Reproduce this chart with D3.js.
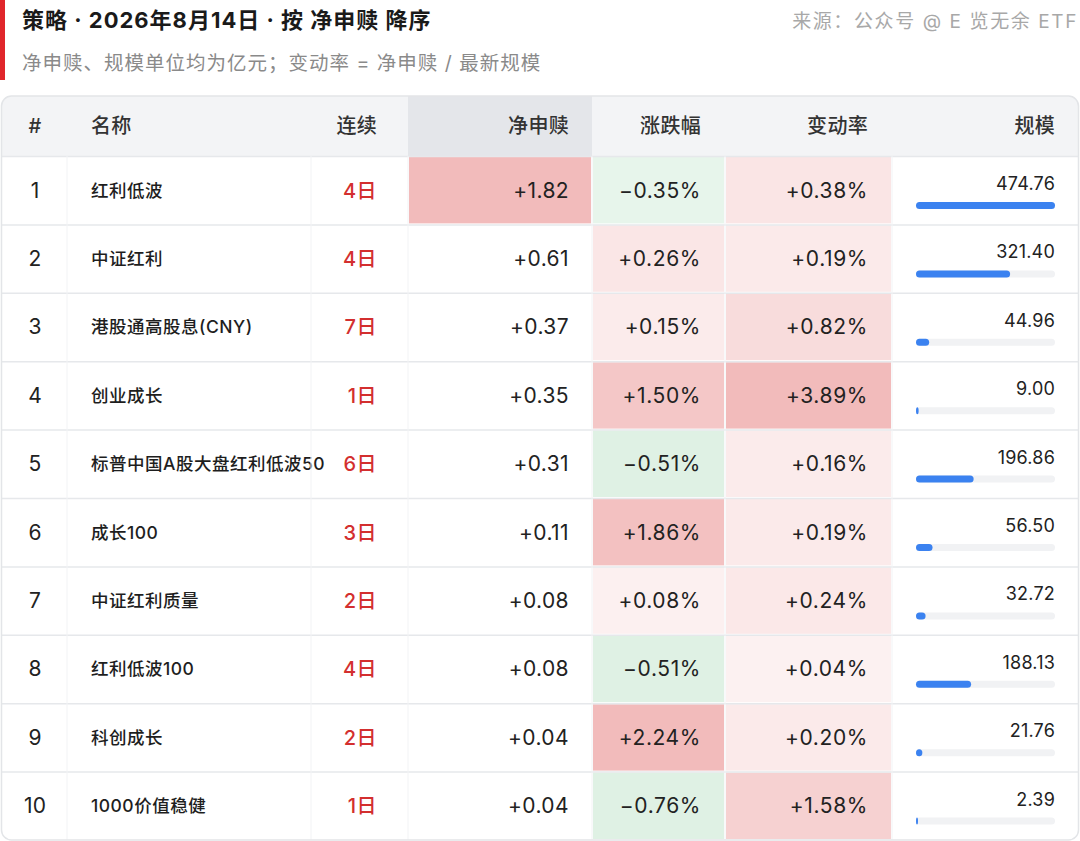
<!DOCTYPE html>
<html>
<head>
<meta charset="utf-8">
<script src="https://cdn.jsdelivr.net/npm/d3@7"></script>
<style>
  body { margin: 0; background: #fff; }
  svg { display: block; font-family: "Inter", "Noto Sans CJK SC", sans-serif; }
</style>
</head>
<body>
<div id="chart"></div>
<script>
// table data (净申赎 / 规模 in 亿元)
const ranks = [1, 2, 3, 4, 5, 6, 7, 8, 9, 10];
const names = ['红利低波', '中证红利', '港股通高股息(CNY)', '创业成长', '标普中国A股大盘红利低波50',
               '成长100', '中证红利质量', '红利低波100', '科创成长', '1000价值稳健'];
const streakDays = [4, 4, 7, 1, 6, 3, 2, 4, 2, 1];
const netFlow = [1.82, 0.61, 0.37, 0.35, 0.31, 0.11, 0.08, 0.08, 0.04, 0.04];
const pctChange = [-0.35, 0.26, 0.15, 1.50, -0.51, 1.86, 0.08, -0.51, 2.24, -0.76];
const changeRate = [0.38, 0.19, 0.82, 3.89, 0.16, 0.19, 0.24, 0.04, 0.20, 1.58];
const aum = [474.76, 321.40, 44.96, 9.00, 196.86, 56.50, 32.72, 188.13, 21.76, 2.39];
const headers = ['#', '名称', '连续', '净申赎', '涨跌幅', '变动率', '规模'];

const W = 1080, H = 841;
const svg = d3.select('#chart').append('svg')
    .attr('width', W)
    .attr('height', H);

// title block
svg.append('rect').attr('x', 0).attr('y', 0).attr('width', 5).attr('height', 80).attr('fill', '#e0262b');
svg.append('text').attr('x', 22).attr('y', 28)
    .attr('font-size', 22).attr('font-weight', 700).attr('fill', '#1a1a1a').attr('letter-spacing', 1)
    .text('策略 · 2026年8月14日 · 按 净申赎 降序');
svg.append('text').attr('x', 22).attr('y', 70)
    .attr('font-size', 19.5).attr('fill', '#8a8a8a').attr('letter-spacing', 1)
    .text('净申赎、规模单位均为亿元；变动率 = 净申赎 / 最新规模');
svg.append('text').attr('x', 1078).attr('y', 28).attr('text-anchor', 'end')
    .attr('font-size', 19).attr('fill', '#a8a8a8').attr('letter-spacing', 1.6)
    .text('来源：公众号 @ E 览无余 ETF');

// column edges
let cols = [
  {x0: 2, x1: 67, anchor: 'middle', tx: 35},
  {x0: 67, x1: 311, anchor: 'start', tx: 91},
  {x0: 311, x1: 408, anchor: 'end', tx: 377},
  {x0: 408, x1: 592, anchor: 'end', tx: 569},
  {x0: 592, x1: 725, anchor: 'end', tx: 701},
  {x0: 725, x1: 892, anchor: 'end', tx: 868},
  {x0: 892, x1: 1078, anchor: 'end', tx: 1055}
];

let tableTop = 96, headH = 60, tableBottom = 840;

let y = d3.scaleBand().domain(ranks).range([tableTop + headH, tableBottom]);
let barX = d3.scaleLinear().domain([0, d3.max(aum)]).range([0, 139]);

// cell shading
let red = d3.interpolateRgb('#ffffff', '#f2bbbb');
let green = d3.interpolateRgb('#ffffff', '#dff1e4');
let netColor = d3.scalePow().exponent(5).domain([0, d3.max(netFlow)]).range([0, 1]).clamp(true);
let pctColor = d3.scaleSqrt().domain([0, d3.max(pctChange)]).range([0.04, 1]).clamp(true);
let negColor = d3.scaleLinear().domain([0, 0.5]).range([0.15, 1]).clamp(true);
let rateColor = d3.scaleSqrt().domain([0, d3.max(changeRate)]).range([0.11, 1]).clamp(true);

let fmt = d3.format('+.2f');

// table frame
let clipId = 'tbl';
svg.append('clipPath').attr('id', clipId).append('rect')
    .attr('x', 1.5).attr('y', tableTop).attr('width', 1077).attr('height', tableBottom - tableTop)
    .attr('rx', 10);
let tbl = svg.append('g').attr('clip-path', 'url(#' + clipId + ')');

// header
tbl.append('rect').attr('x', 0).attr('y', tableTop).attr('width', W).attr('height', headH).attr('fill', '#f3f4f6');
tbl.append('rect').attr('x', cols[3].x0).attr('y', tableTop).attr('width', cols[3].x1 - cols[3].x0)
    .attr('height', headH).attr('fill', '#e4e6ea');
tbl.selectAll('.hd').data(headers).join('text')
    .attr('class', 'hd')
    .attr('x', (d, i) => cols[i].tx)
    .attr('y', tableTop + headH / 2 + 7)
    .attr('text-anchor', (d, i) => cols[i].anchor)
    .attr('font-size', 20).attr('font-weight', 500).attr('fill', '#333').attr('letter-spacing', 0.3)
    .text(d => d);

// rows
let rows = tbl.selectAll('.row').data(ranks).join('g')
    .attr('class', 'row')
    .attr('transform', d => 'translate(0,' + y(d) + ')');
let bh = y.bandwidth();

function cell(col, fill) {
  rows.append('rect')
      .attr('x', cols[col].x0 + 1).attr('y', 1)
      .attr('width', cols[col].x1 - cols[col].x0 - 2).attr('height', bh - 2)
      .attr('fill', fill);
}
cell(3, (d, i) => red(netColor(netFlow[i])));
cell(4, (d, i) => pctChange[i] >= 0 ? red(pctColor(pctChange[i])) : green(negColor(-pctChange[i])));
cell(5, (d, i) => red(rateColor(changeRate[i])));

// grid lines
tbl.selectAll('.hl').data(ranks).join('line')
    .attr('class', 'hl')
    .attr('x1', 0).attr('x2', W)
    .attr('y1', d => y(d) + 0.5).attr('y2', d => y(d) + 0.5)
    .attr('stroke', '#e6e8eb').attr('stroke-width', 1.5);
tbl.selectAll('.vl').data(cols.slice(1)).join('line')
    .attr('class', 'vl')
    .attr('x1', d => d.x0).attr('x2', d => d.x0)
    .attr('y1', tableTop + headH).attr('y2', tableBottom)
    .attr('stroke', '#f2f3f5').attr('stroke-width', 1);

let mid = bh / 2 + 7.5;
rows.append('text').attr('x', cols[0].tx).attr('y', mid).attr('text-anchor', 'middle')
    .attr('font-size', 21).attr('fill', '#222').text(d => d);
rows.append('text').attr('x', cols[1].tx).attr('y', mid - 1)
    .attr('font-size', 17.5).attr('font-weight', 500).attr('fill', '#1e1e1e').attr('letter-spacing', 0.5)
    .text((d, i) => names[i]);
rows.append('text').attr('x', cols[2].tx).attr('y', mid).attr('text-anchor', 'end')
    .attr('font-size', 20).attr('font-weight', 500).attr('fill', '#d32f2f').attr('letter-spacing', 0.5)
    .text((d, i) => streakDays[i] + '日');
rows.append('text').attr('x', cols[3].tx).attr('y', mid).attr('text-anchor', 'end')
    .attr('font-size', 21).attr('fill', '#222').attr('letter-spacing', 0.4)
    .text((d, i) => fmt(netFlow[i]));
rows.append('text').attr('x', cols[4].tx).attr('y', mid).attr('text-anchor', 'end')
    .attr('font-size', 21).attr('fill', '#222').attr('letter-spacing', 0.6)
    .text((d, i) => fmt(pctChange[i]) + '%');
rows.append('text').attr('x', cols[5].tx).attr('y', mid).attr('text-anchor', 'end')
    .attr('font-size', 21).attr('fill', '#222').attr('letter-spacing', 0.6)
    .text((d, i) => fmt(changeRate[i]) + '%');

// 规模 value + bar
rows.append('text').attr('x', cols[6].tx).attr('y', 34).attr('text-anchor', 'end')
    .attr('font-size', 18).attr('fill', '#222').attr('letter-spacing', 0.2)
    .text((d, i) => aum[i].toFixed(2));
rows.append('rect').attr('x', 916).attr('y', 46).attr('width', barX.range()[1]).attr('height', 7)
    .attr('rx', 3.5).attr('fill', '#f1f2f4');
rows.append('rect').attr('x', 916).attr('y', 46)
    .attr('width', (d, i) => Math.max(2, barX(aum[i]))).attr('height', 7)
    .attr('rx', 3.5).attr('fill', '#3b82f0');

// outer border
svg.append('rect')
    .attr('x', 1.5).attr('y', tableTop).attr('width', 1077).attr('height', tableBottom - tableTop)
    .attr('rx', 10).attr('fill', 'none').attr('stroke', '#e3e5e8').attr('stroke-width', 1.5);
</script>
</body>
</html>
